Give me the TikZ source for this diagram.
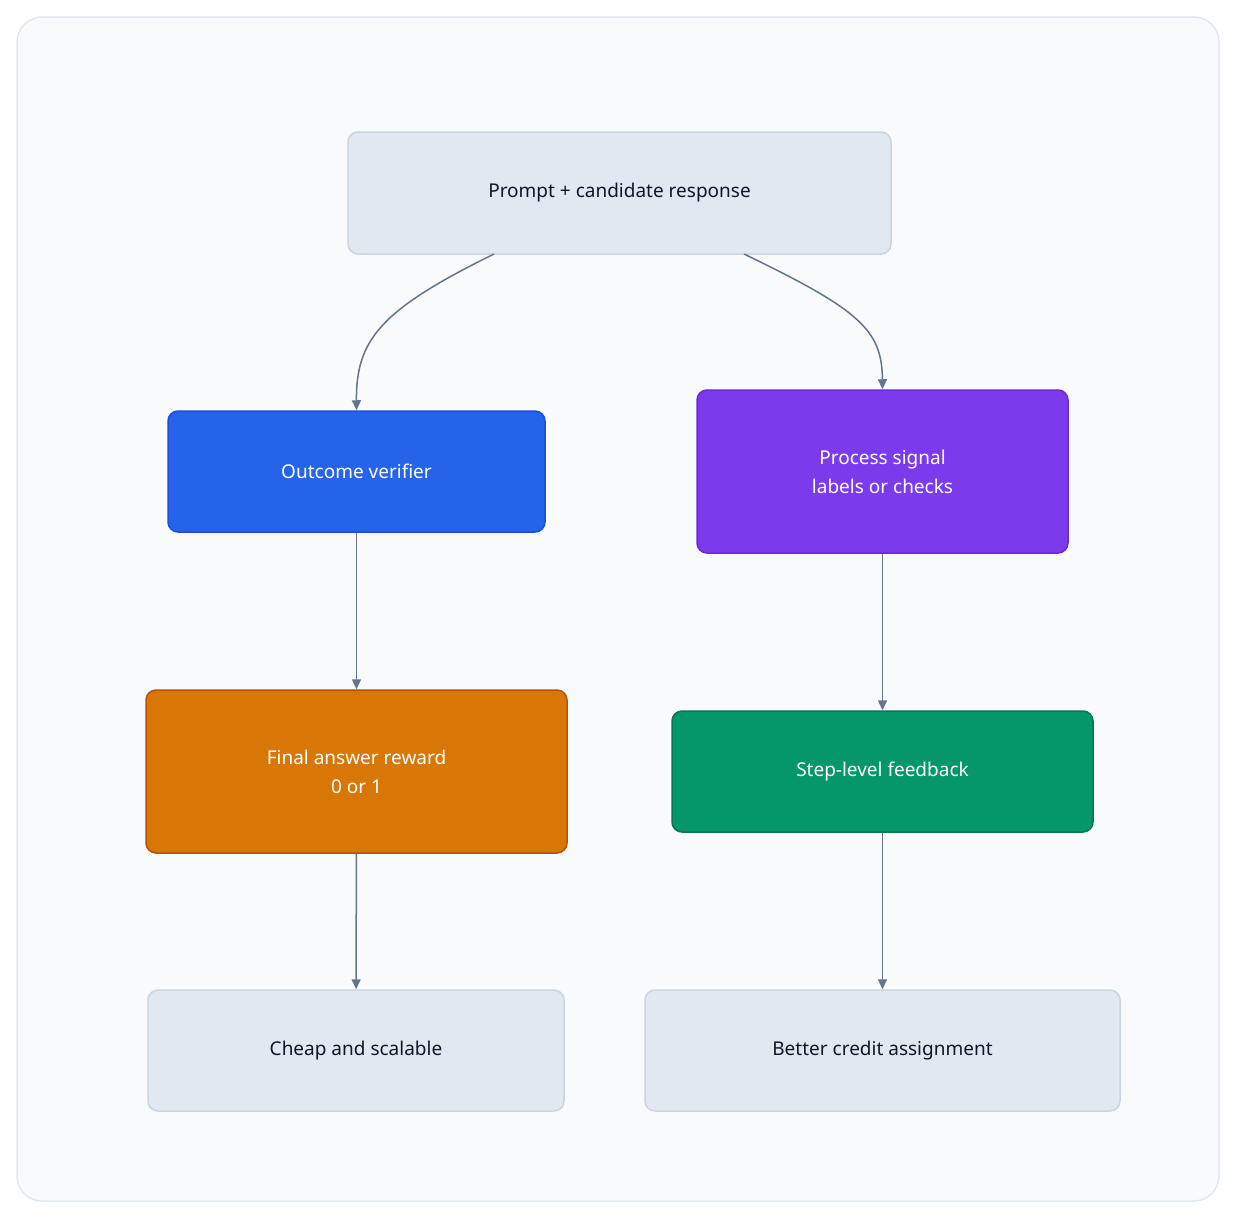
\documentclass[tikz,border=0pt]{standalone}
\usepackage{fontspec}
\setmainfont{Noto Sans}
\usetikzlibrary{arrows.meta}
\definecolor{frameb}{HTML}{E2E8F0}
\definecolor{framef}{HTML}{F8FAFC}
\definecolor{grayf}{HTML}{E2E8F0}
\definecolor{grayb}{HTML}{CBD5E1}
\definecolor{txt}{HTML}{0F172A}
\definecolor{arr}{HTML}{64748B}
\tikzset{
 box/.style={draw,rounded corners=10pt,line width=1.5pt,font=\fontsize{19}{29}\selectfont,align=center,inner sep=0pt},
 light/.style={box,fill=grayf,draw=grayb,text=txt},
 dark/.style={box,text=white},
 conn/.style={draw=arr,line width=1.5pt,-{Triangle[length=10pt,width=9pt]}}
}
\begin{document}
\begin{tikzpicture}[x=1pt,y=-1pt]
\useasboundingbox (0,0) rectangle (1236,1218);
\draw[draw=frameb,fill=framef,line width=1.5pt,rounded corners=25pt] (17,17) rectangle (1219,1201);
\node[light,minimum width=543pt,minimum height=122pt] (p) at (619.5,193) {Prompt + candidate response};
\node[dark,fill=blue!60!cyan!0,fill={rgb,255:red,37;green,99;blue,235},draw={rgb,255:red,29;green,78;blue,216},minimum width=377pt,minimum height=121pt] (o) at (356.5,471.5) {Outcome verifier};
\node[dark,fill={rgb,255:red,124;green,58;blue,237},draw={rgb,255:red,109;green,40;blue,217},minimum width=371pt,minimum height=163pt] (s) at (882.5,471.5) {Process signal\\labels or checks};
\node[dark,fill={rgb,255:red,217;green,119;blue,6},draw={rgb,255:red,180;green,83;blue,9},minimum width=421pt,minimum height=163pt] (f) at (356.5,771.5) {Final answer reward\\0 or 1};
\node[dark,fill={rgb,255:red,5;green,150;blue,105},draw={rgb,255:red,4;green,120;blue,87},minimum width=421pt,minimum height=121pt] (st) at (882.5,771.5) {Step-level feedback};
\node[light,minimum width=416pt,minimum height=121pt] (c) at (356,1050.5) {Cheap and scalable};
\node[light,minimum width=475pt,minimum height=121pt] (b) at (882.5,1050.5) {Better credit assignment};
\coordinate (p1) at (494,254);
\coordinate (p2) at (744,254);
\draw[conn] (p1) .. controls (380,310) and (356,340) .. (o.north);
\draw[conn] (p2) .. controls (860,310) and (882,330) .. (s.north);
\draw[conn] (o) -- (f);
\draw[conn] (s) -- (st);
\draw[conn] (f) -- (c);
\draw[conn] (st) -- (b);
\end{tikzpicture}
\end{document}
